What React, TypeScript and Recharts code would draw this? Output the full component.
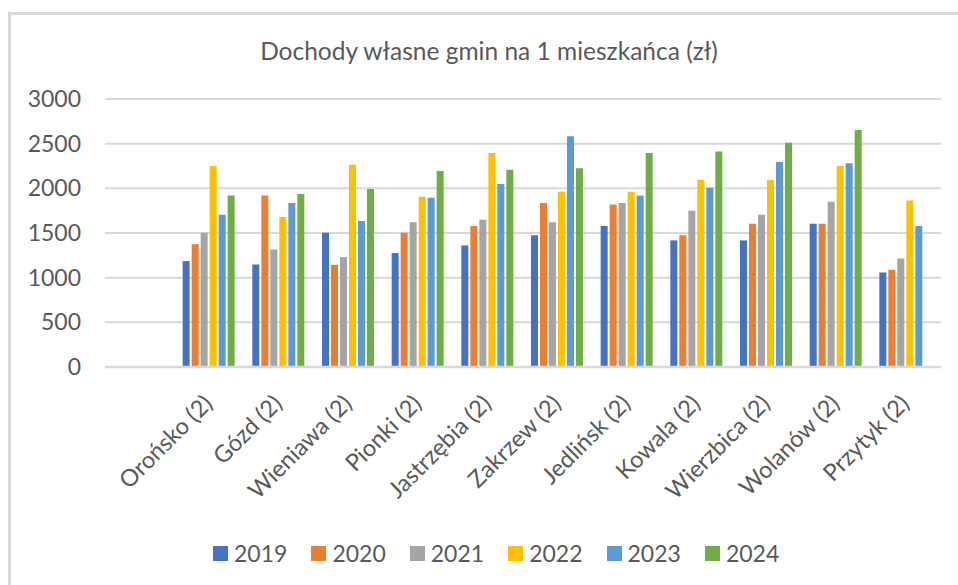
import React from "react";
import { BarChart, Bar, XAxis, YAxis, CartesianGrid, Legend } from "recharts";

const FONT = "Lato, 'Open Sans', sans-serif";
const TEXT = "#595959";

const title = "Dochody własne gmin na 1 mieszkańca (zł)";

const categories = [
  "",
  "Orońsko (2)",
  "Gózd (2)",
  "Wieniawa (2)",
  "Pionki (2)",
  "Jastrzębia (2)",
  "Zakrzew (2)",
  "Jedlińsk (2)",
  "Kowala (2)",
  "Wierzbica (2)",
  "Wolanów (2)",
  "Przytyk (2)",
];

const v2019 = [null, 1185, 1148, 1502, 1275, 1361, 1476, 1577, 1417, 1417, 1603, 1058];
const v2020 = [null, 1375, 1921, 1144, 1502, 1577, 1835, 1820, 1476, 1603, 1603, 1088];
const v2021 = [null, 1502, 1316, 1230, 1619, 1648, 1619, 1835, 1749, 1704, 1850, 1215];
const v2022 = [null, 2250, 1678, 2265, 1906, 2396, 1962, 1962, 2093, 2093, 2250, 1865];
const v2023 = [null, 1704, 1835, 1633, 1895, 2048, 2583, 1921, 2007, 2295, 2280, 1577];
const v2024 = [null, 1921, 1936, 1992, 2194, 2209, 2224, 2396, 2411, 2511, 2653, null];

const yTicks = [0, 500, 1000, 1500, 2000, 2500, 3000];

const seriesNames = ["2019", "2020", "2021", "2022", "2023", "2024"];
const seriesValues = [v2019, v2020, v2021, v2022, v2023, v2024];
const seriesColors = ["#4472C4", "#ED7D31", "#A5A5A5", "#FFC000", "#5B9BD5", "#70AD47"];

const data = categories.map((name, i) => {
  const row: Record<string, any> = { name };
  seriesNames.forEach((s, k) => {
    row[s] = seriesValues[k][i];
  });
  return row;
});

const XTick = (props: any) => {
  const { x, y, payload } = props;
  if (!payload || !payload.value) return null;
  return (
    <g transform={`translate(${x - 1.5},${y + 32})`}>
      <text
        transform="rotate(-45)"
        textAnchor="end"
        dy="0.36em"
        fill={TEXT}
        fontSize={23.5}
        fontFamily={FONT}
      >
        {payload.value}
      </text>
    </g>
  );
};

const LegendContent = (props: any) => {
  const payload = props.payload || [];
  return (
    <div
      style={{
        display: "flex",
        alignItems: "center",
        fontFamily: FONT,
        fontSize: 23,
        color: TEXT,
        lineHeight: "24px",
        whiteSpace: "nowrap",
      }}
    >
      {payload.map((p: any, i: number) => (
        <div
          key={p.value}
          style={{
            display: "flex",
            alignItems: "center",
            marginRight: i < payload.length - 1 ? 24 : 0,
          }}
        >
          <span
            style={{
              display: "inline-block",
              width: 15,
              height: 15,
              background: p.color,
              marginRight: 6,
            }}
          />
          <span>{p.value}</span>
        </div>
      ))}
    </div>
  );
};

export default function App() {
  return (
    <div style={{ position: "absolute", left: 0, top: 0, width: 958, height: 585, background: "#fff" }}>
      <svg
        width={958}
        height={585}
        style={{ position: "absolute", left: 0, top: 0, pointerEvents: "none" }}
      >
        <rect x={8} y={12} width={950} height={3} fill="#d9d9d9" />
        <rect x={8} y={12} width={3} height={573} fill="#d9d9d9" />
        <text
          x={489}
          y={60}
          textAnchor="middle"
          fill={TEXT}
          fontSize={24.5}
          fontFamily={FONT}
        >
          {title}
        </text>
      </svg>
      <div style={{ position: "absolute", left: 0, top: 0 }}>
        <BarChart
          width={958}
          height={585}
          data={data}
          margin={{ top: 99, right: 17, left: 0, bottom: 0 }}
          barCategoryGap={8}
          barGap={2}
        >
          <CartesianGrid
            vertical={false}
            horizontal={true}
            stroke="#d9d9d9"
            strokeWidth={2}
          />
          <XAxis
            dataKey="name"
            height={218}
            interval={0}
            tickLine={false}
            tickSize={0}
            tickMargin={0}
            axisLine={{ stroke: "#d9d9d9", strokeWidth: 2.5 }}
            tick={<XTick />}
          />
          <YAxis
            width={105}
            domain={[0, 3000]}
            ticks={yTicks}
            interval={0}
            axisLine={false}
            tickLine={false}
            tickSize={0}
            tickMargin={24}
            tick={{ fill: TEXT, fontSize: 23, fontFamily: FONT }}
          />
          <Legend
            layout="horizontal"
            verticalAlign="middle"
            align="center"
            wrapperStyle={{ left: 213, top: 541, width: 640 }}
            content={<LegendContent />}
          />
          {seriesNames.map((s, k) => (
            <Bar
              key={s}
              dataKey={s}
              name={s}
              fill={seriesColors[k]}
              isAnimationActive={false}
            />
          ))}
        </BarChart>
      </div>
    </div>
  );
}
